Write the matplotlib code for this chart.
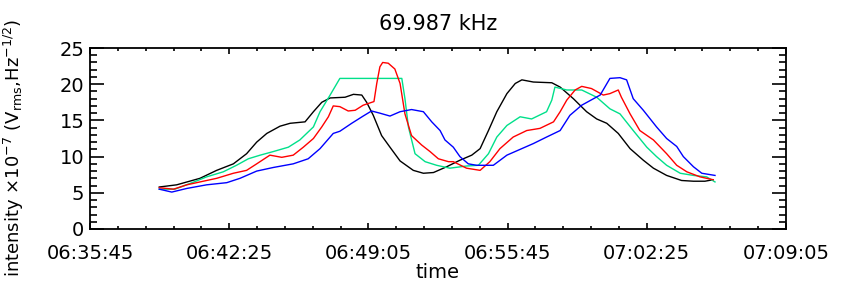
import matplotlib
matplotlib.use('Agg')
import matplotlib.pyplot as plt
from matplotlib.ticker import MultipleLocator, FuncFormatter

# time in seconds after 06:35:45, intensity in 1e-7 Vrms/Hz^1/2
t_black = [199, 249, 316, 364, 412, 450, 479, 508, 546, 575, 618, 642, 666, 690, 733, 757, 781,
           795, 814, 838, 862, 891, 929, 958, 987, 1025, 1063, 1097, 1121, 1145, 1169, 1198, 1222,
           1241, 1274, 1327, 1351, 1389, 1427, 1456, 1485, 1518, 1552, 1590, 1619, 1657, 1700,
           1734, 1767, 1790]
v_black = [5.8, 6.1, 7.0, 8.1, 9.0, 10.4, 12.0, 13.2, 14.2, 14.6, 14.8, 16.2, 17.5, 18.1, 18.2, 18.6, 18.5,
           17.5, 15.7, 12.9, 11.3, 9.4, 8.1, 7.7, 7.8, 8.6, 9.5, 10.2, 11.1, 13.6, 16.2, 18.7, 20.1,
           20.6, 20.3, 20.2, 19.6, 18.0, 16.2, 15.2, 14.6, 13.2, 11.1, 9.5, 8.4, 7.4, 6.7,
           6.6, 6.6, 6.8]

t_red = [199, 240, 278, 316, 364, 412, 450, 479, 517, 551, 584, 613, 642, 666, 685, 699, 718, 742,
         762, 785, 816, 824, 833, 841, 857, 876, 891, 905, 924, 953, 977, 1001, 1030, 1044, 1082,
         1121, 1149, 1178, 1216, 1255, 1293, 1332, 1351, 1370, 1394, 1413, 1441, 1475, 1494, 1518,
         1527, 1552, 1580, 1619, 1657, 1686, 1715, 1753, 1791]
v_red = [5.7, 5.5, 6.1, 6.5, 7.0, 7.7, 8.1, 9.0, 10.2, 9.9, 10.2, 11.3, 12.5, 14.1, 15.5, 17.0, 16.9, 16.3,
         16.4, 17.1, 17.6, 20.1, 22.4, 23.0, 22.9, 22.1, 20.1, 15.9, 12.9, 11.6, 10.7, 9.7, 9.3, 9.3, 8.4,
         8.1, 9.3, 11.1, 12.7, 13.6, 13.9, 14.8, 16.2, 17.8, 19.2, 19.7, 19.4, 18.5, 18.7, 19.2,
         18.2, 15.9, 13.6, 12.3, 10.4, 8.8, 7.9, 7.2, 6.8]

t_green = [199, 244, 299, 335, 383, 421, 455, 489, 527, 570, 603, 642, 661, 690, 718, 896, 905, 915,
           934, 963, 996, 1034, 1082, 1116, 1145, 1169, 1198, 1236, 1269, 1312, 1327, 1336, 1370,
           1413, 1456, 1494, 1523, 1561, 1600, 1628, 1657, 1696, 1734, 1772, 1796]
v_green = [5.5, 5.5, 6.5, 7.2, 7.9, 8.8, 9.7, 10.2, 10.7, 11.3, 12.3, 14.1, 16.2, 18.5, 20.8, 20.8, 18.0, 14.1,
           10.4, 9.3, 8.8, 8.4, 8.7, 8.8, 10.4, 12.7, 14.3, 15.5, 15.2, 16.2, 17.8, 19.6, 19.2,
           19.2, 18.2, 16.6, 15.9, 13.6, 11.3, 10.0, 8.8, 7.7, 7.4, 7.2, 6.5]

t_blue = [199, 235, 278, 335, 393, 431, 479, 527, 584, 627, 661, 699, 718, 752, 785, 809, 833, 862,
          891, 924, 958, 982, 1006, 1020, 1044, 1063, 1087, 1111, 1159, 1198, 1236, 1274, 1312,
          1351, 1379, 1413, 1447, 1466, 1494, 1523, 1542, 1561, 1590, 1628, 1657, 1686, 1705,
          1734, 1758, 1796]
v_blue = [5.5, 5.1, 5.6, 6.1, 6.4, 7.0, 8.0, 8.5, 9.0, 9.7, 11.1, 13.2, 13.5, 14.6, 15.6, 16.3, 16.0, 15.6,
          16.2, 16.5, 16.2, 14.8, 13.6, 12.3, 11.3, 10.0, 9.0, 8.8, 8.8, 10.2, 11.0, 11.8, 12.7,
          13.6, 15.7, 17.1, 18.0, 18.5, 20.8, 20.9, 20.6, 18.0, 16.4, 14.1, 12.5, 11.4, 10.0,
          8.6, 7.7, 7.4]

start_sec = 6 * 3600 + 35 * 60 + 45
tick_step = 400


def fmt_time(x, pos):
    s = int(round(x)) + start_sec
    return "%02d:%02d:%02d" % (s // 3600, (s % 3600) // 60, s % 60)


fig = plt.figure(figsize=(8.52, 2.91), dpi=100)
ax = fig.add_axes([90 / 852, 1 - 229 / 291, 696 / 852, 181 / 291])

ax.plot(t_black, v_black, color='black', lw=1.0)
ax.plot(t_green, v_green, color='#00e08a', lw=1.0)
ax.plot(t_red, v_red, color='red', lw=1.0)
ax.plot(t_blue, v_blue, color='blue', lw=1.0)

ax.set_xlim(0, 2000)
ax.set_ylim(0, 25)
ax.xaxis.set_major_locator(MultipleLocator(tick_step))
ax.xaxis.set_minor_locator(MultipleLocator(tick_step / 5))
ax.xaxis.set_major_formatter(FuncFormatter(fmt_time))
ax.yaxis.set_major_locator(MultipleLocator(5))
ax.yaxis.set_minor_locator(MultipleLocator(1))

ax.tick_params(axis='x', which='major', direction='in', length=4, width=1.2, top=True,
               labelsize=14, pad=11)
ax.tick_params(axis='x', which='minor', direction='in', length=2, width=1.2, top=True)
ax.tick_params(axis='y', which='major', direction='in', length=10, width=1.2, right=True,
               labelsize=14, pad=4)
ax.tick_params(axis='y', which='minor', direction='in', length=5, width=1.2, right=True)
for sp in ax.spines.values():
    sp.set_linewidth(1.3)

ax.set_title("69.987 kHz", fontsize=15, pad=13)
ax.set_xlabel("time", fontsize=14, labelpad=0)
ax.set_ylabel(r"intensity $\times$10$^{-7}$ (V$_{\mathrm{rms}}$,Hz$^{-1/2}$)", fontsize=13)
ax.yaxis.set_label_coords(-0.092, 0.45)

fig.savefig("out.png", dpi=100)
plt.close()
